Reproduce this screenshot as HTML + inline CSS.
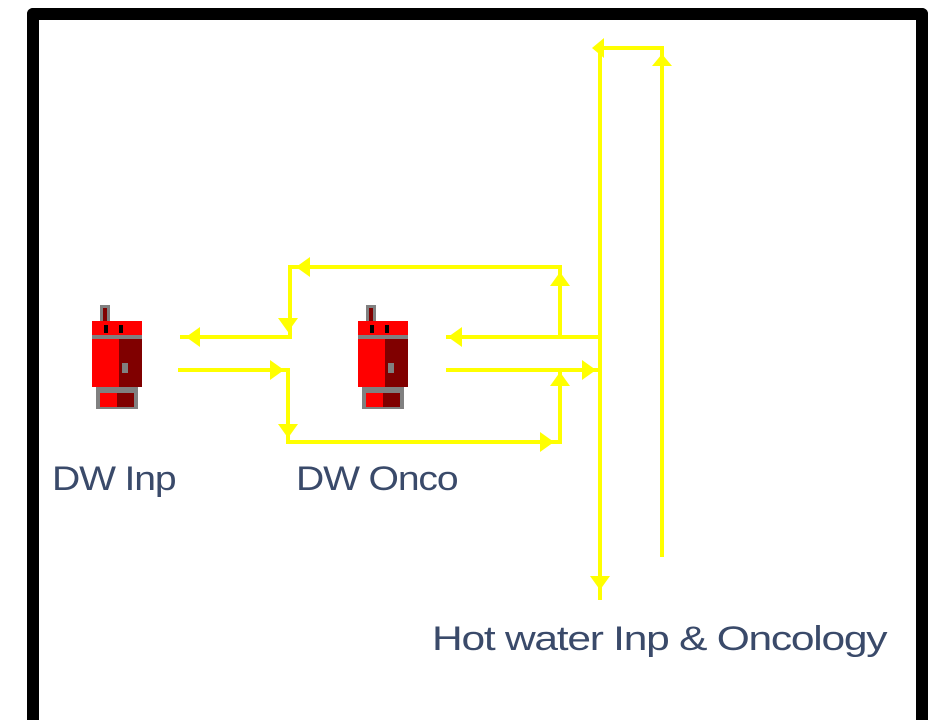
<!DOCTYPE html>
<html><head><style>
body{margin:0;width:942px;height:703px;background:#fff;overflow:hidden;position:relative;font-family:"Liberation Sans",sans-serif}
.t{position:absolute;color:#3a4a6a;font-size:34px;letter-spacing:-1px;white-space:nowrap;transform:scaleX(1.15);transform-origin:left top}
</style></head><body>
<div style="position:absolute;left:27px;top:8px;width:877px;height:700px;border:12px solid #000;border-bottom:none;border-radius:6px 6px 0 0"></div>
<svg width="942" height="703" style="position:absolute;left:0;top:0">
<defs>
<g id="cyl">
<rect x="8" y="0" width="10" height="18" fill="#808080"/>
<rect x="11" y="3" width="4" height="14" fill="#800000"/>
<rect x="0" y="16" width="50" height="66" fill="#ff0000"/>
<rect x="27" y="30" width="23" height="52" fill="#800000"/>
<rect x="0" y="30" width="50" height="4" fill="#808080"/>
<rect x="12" y="20" width="4" height="8" fill="#000"/>
<rect x="27" y="20" width="4" height="8" fill="#000"/>
<rect x="4" y="82" width="42" height="22" fill="#808080"/>
<rect x="8" y="88" width="34" height="14" fill="#ff0000"/>
<rect x="25" y="88" width="17" height="14" fill="#800000"/>
<rect x="30" y="58" width="6" height="10" fill="#808080"/>
</g>
</defs>
<use href="#cyl" x="92" y="305"/>
<use href="#cyl" x="358" y="305"/>
<g stroke="#ffff00" stroke-width="4" fill="none">
<path d="M600 48V600M600 48H662V557"/>
<path d="M180 337H290V267H560V337M178 370H288V442H560V370"/>
<path d="M446 337H600M446 370H600"/>
</g>
<g fill="#ffff00">
<polygon points="604,38 604,58 592,48"/>
<polygon points="652,66 672,66 662,54"/>
<polygon points="590,576 610,576 600,590"/>
<polygon points="200,327 200,347 186,337"/>
<polygon points="270,360 270,380 284,370"/>
<polygon points="278,318 298,318 288,332"/>
<polygon points="310,257 310,277 296,267"/>
<polygon points="550,286 570,286 560,272"/>
<polygon points="278,424 298,424 288,438"/>
<polygon points="540,432 540,452 554,442"/>
<polygon points="550,386 570,386 560,372"/>
<polygon points="462,327 462,347 448,337"/>
<polygon points="582,360 582,380 596,370"/>
</g>
</svg>
<div class="t" style="left:52px;top:460px">DW Inp</div>
<div class="t" style="left:296px;top:460px">DW Onco</div>
<div class="t" style="left:432px;top:620px;transform:scaleX(1.25)">Hot water Inp &amp; Oncology</div>
</body></html>
